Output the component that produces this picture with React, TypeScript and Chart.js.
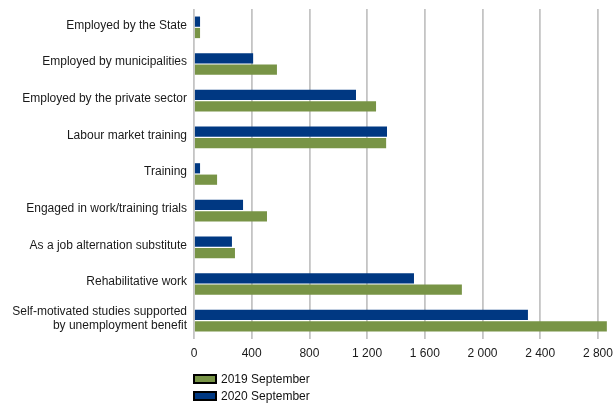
import React, { useEffect, useRef } from "react";
import { Chart, registerables } from "chart.js";

Chart.register(...registerables);

const categories: (string | string[])[] = [
  "Employed by the State",
  "Employed by municipalities",
  "Employed by the private sector",
  "Labour market training",
  "Training",
  "Engaged in work/training trials",
  "As a job alternation substitute",
  "Rehabilitative work",
  ["Self-motivated studies supported", "by unemployment benefit"],
];

const series2019 = [42, 575, 1262, 1332, 160, 506, 284, 1857, 2862];
const series2020 = [42, 410, 1123, 1338, 42, 340, 263, 1525, 2315];

const xTicks = [0, 400, 800, 1200, 1600, 2000, 2400, 2800];

const GREEN = "#789446";
const BLUE = "#003882";
const FONT = "'Liberation Sans', Arial, sans-serif";

function fmt(v: number): string {
  return String(Math.round(v)).replace(/\B(?=(\d{3})+(?!\d))/g, " ");
}

export default function App() {
  const ref = useRef<HTMLCanvasElement | null>(null);

  useEffect(() => {
    document.body.style.margin = "0";
    document.body.style.overflow = "hidden";
    if (!ref.current) return;
    const chart = new Chart(ref.current, {
      type: "bar",
      data: {
        labels: categories,
        datasets: [
          {
            label: "2020 September",
            data: series2020,
            backgroundColor: BLUE,
            categoryPercentage: 0.62,
            barPercentage: 0.9,
          },
          {
            label: "2019 September",
            data: series2019,
            backgroundColor: GREEN,
            categoryPercentage: 0.62,
            barPercentage: 0.9,
          },
        ],
      },
      options: {
        indexAxis: "y",
        animation: false,
        responsive: true,
        maintainAspectRatio: false,
        layout: { padding: { top: 9, right: 5, bottom: 42, left: 0 } },
        plugins: {
          legend: { display: false },
          tooltip: { enabled: false },
        },
        scales: {
          x: {
            min: 0,
            max: 2870,
            afterBuildTicks: (scale: any) => {
              scale.ticks = xTicks.map((v) => ({ value: v }));
            },
            afterFit: (scale: any) => {
              scale.height = 24;
              scale.paddingLeft = 0;
              scale.paddingRight = 0;
            },
            grid: {
              color: "#c4c4c4",
              lineWidth: 1.8,
              drawTicks: false,
            },
            border: { display: false },
            ticks: {
              padding: 7,
              color: "#1a1a1a",
              font: { family: FONT, size: 12 },
              callback: (v: any) => fmt(Number(v)),
            },
          },
          y: {
            afterFit: (scale: any) => {
              scale.width = 194;
              scale.paddingTop = 0;
              scale.paddingBottom = 0;
            },
            grid: { display: false, drawTicks: false },
            border: { display: false },
            ticks: {
              padding: 7,
              labelOffset: -2,
              color: "#1a1a1a",
              font: { family: FONT, size: 12 },
            },
          },
        },
      },
    });
    return () => chart.destroy();
  }, []);

  const legendItem = (color: string, text: string) => (
    <div style={{ display: "flex", alignItems: "center", height: 17 }}>
      <div
        style={{
          width: 20,
          height: 6,
          background: color,
          border: "2px solid #000",
          marginRight: 4,
        }}
      />
      <span style={{ fontFamily: FONT, fontSize: 12, color: "#111" }}>{text}</span>
    </div>
  );

  return (
    <div style={{ position: "relative", width: 613, height: 405 }}>
      <canvas ref={ref} />
      <div style={{ position: "absolute", left: 193, top: 370 }}>
        {legendItem(GREEN, "2019 September")}
        {legendItem(BLUE, "2020 September")}
      </div>
    </div>
  );
}
